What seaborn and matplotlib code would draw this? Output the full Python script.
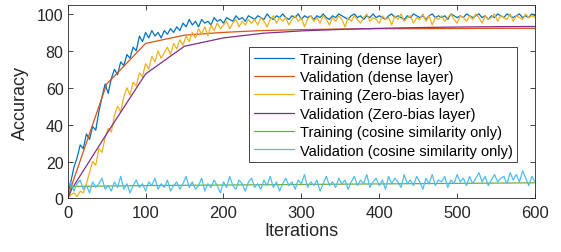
import numpy as np
import pandas as pd
import matplotlib
matplotlib.use("Agg")
import matplotlib.pyplot as plt
import seaborn as sns

# iterations for the noisy training curves (read every 4 iterations)
iters_noisy = list(range(0, 601, 4))

train_dense = [
    2, 9, 17, 22, 29, 27, 35, 32, 39, 37,
    47, 55, 62, 57, 65, 70, 67, 74, 72, 78,
    76, 82, 80, 88, 85, 90, 87, 91, 88, 90,
    87, 91, 89, 92, 90, 93, 91, 95, 93, 97,
    94, 96, 93, 97, 95, 96, 94, 98, 96, 97,
    95, 98, 97, 96, 99, 97, 98, 96, 99, 98,
    97, 99, 98, 97, 100, 98, 97, 99, 98, 100,
    98, 97, 99, 98, 100, 97, 99, 98, 99, 97,
    99, 98, 100, 98, 97, 99, 98, 100, 99, 98,
    97, 99, 100, 98, 99, 97, 99, 98, 100, 98,
    99, 98, 97, 99, 100, 98, 99, 98, 97, 99,
    98, 100, 99, 98, 99, 97, 99, 100, 98, 99,
    98, 99, 97, 100, 99, 98, 99, 98, 100, 99,
    98, 99, 100, 98, 99, 97, 99, 98, 100, 99,
    98, 100, 99, 98, 99, 100, 98, 99, 98, 100,
    99,
]

train_zero_bias = [
    0, 2, 3, 1, 4, 3, 8, 14, 20, 18,
    27, 25, 33, 38, 36, 45, 50, 47, 55, 60,
    56, 63, 61, 68, 66, 73, 70, 77, 74, 80,
    76, 79, 82, 78, 84, 81, 86, 83, 88, 85,
    90, 87, 92, 89, 93, 88, 94, 91, 95, 92,
    94, 96, 92, 95, 97, 93, 96, 94, 97, 95,
    97, 94, 98, 96, 93, 97, 99, 95, 98, 96,
    98, 94, 97, 99, 96, 98, 93, 97, 99, 96,
    98, 95, 99, 97, 94, 98, 96, 99, 97, 93,
    98, 96, 99, 97, 95, 98, 100, 96, 98, 97,
    95, 99, 97, 98, 94, 99, 97, 100, 96, 98,
    99, 95, 98, 97, 100, 96, 99, 94, 98, 97,
    99, 96, 98, 100, 97, 95, 99, 98, 96, 99,
    97, 100, 98, 95, 99, 97, 98, 100, 96, 99,
    98, 97, 100, 96, 99, 98, 97, 100, 98, 99,
    98,
]

val_cosine = [
    6, 9, 4, 8, 10, 5, 7, 3, 9, 6,
    8, 11, 5, 7, 4, 9, 6, 12, 5, 8,
    3, 7, 10, 6, 8, 4, 9, 7, 11, 5,
    8, 6, 10, 4, 7, 9, 5, 8, 12, 6,
    9, 5, 7, 11, 4, 8, 6, 10, 7, 3,
    9, 6, 12, 7, 5, 10, 8, 4, 9, 11,
    6, 8, 5, 10, 7, 12, 6, 9, 4, 8,
    11, 7, 9, 5, 10, 8, 13, 6, 9, 7,
    10, 4, 8, 12, 7, 9, 6, 11, 8, 10,
    5, 9, 12, 7, 10, 8, 13, 6, 9, 11,
    7, 10, 5, 12, 8, 11, 9, 6, 13, 8,
    10, 7, 12, 9, 5, 11, 8, 13, 7, 10,
    9, 12, 6, 10, 8, 13, 9, 11, 7, 12,
    8, 11, 14, 9, 12, 7, 10, 13, 9, 11,
    12, 8, 14, 10, 13, 9, 15, 11, 7, 12,
    9,
]

# smooth curves (validation every 50 iterations)
iters_val = [0, 5, 50, 100, 150, 200, 250, 300, 350, 400, 450, 500, 550, 600]
val_dense = [0, 7, 62, 84, 88.5, 90, 91, 91.5, 91.8, 92, 92, 92.1, 92.2, 92.2]
val_zero_bias = [0, 5, 35, 67.5, 82.5, 87, 89.5, 90.8, 91.6, 92.2, 92.6, 92.9, 93.1, 93.2]

iters_cos_train = [0, 5, 100, 200, 300, 400, 500, 600]
train_cosine = [2, 6.5, 7, 7.3, 7.6, 7.9, 8.2, 8.5]

labels = [
    "Training (dense layer)",
    "Validation (dense layer)",
    "Training (Zero-bias layer)",
    "Validation (Zero-bias layer)",
    "Training (cosine similarity only)",
    "Validation (cosine similarity only)",
]
colors = ["#0072BD", "#D95319", "#EDB120", "#7E2F8E", "#77AC30", "#4DBEEE"]

series = [
    (iters_noisy, train_dense),
    (iters_val, val_dense),
    (iters_noisy, train_zero_bias),
    (iters_val, val_zero_bias),
    (iters_cos_train, train_cosine),
    (iters_noisy, val_cosine),
]
frames = []
for lab, (xs, ys) in zip(labels, series):
    frames.append(pd.DataFrame({"Iterations": xs, "Accuracy": ys, "series": lab}))
df = pd.concat(frames, ignore_index=True)

sns.set_style("ticks")
plt.rcParams["font.family"] = ["Liberation Sans", "DejaVu Sans"]
dark = "#262626"

fig = plt.figure(figsize=(5.61, 2.53), dpi=100)
ax = fig.add_axes([0.1207, 0.2115, 0.8330, 0.766])

sns.lineplot(data=df, x="Iterations", y="Accuracy", hue="series",
             hue_order=labels, palette=colors, estimator=None, sort=False,
             linewidth=0.9, ax=ax)

ax.set_xlim(0, 600)
ax.set_ylim(0, 105)
ax.set_xticks(range(0, 601, 100))
ax.set_yticks(range(0, 101, 20))
ax.tick_params(direction="in", length=3.5, width=0.6, colors=dark,
               labelsize=12, top=True, right=True, labeltop=False, labelright=False)
ax.tick_params(axis="x", pad=5)
ax.tick_params(axis="y", pad=3)
ax.tick_params(axis="y", labelsize=11.5)
for sp in ax.spines.values():
    sp.set_visible(True)
    sp.set_linewidth(0.6)
    sp.set_color(dark)
ax.set_xlabel("Iterations", fontsize=13, color=dark, labelpad=1)
ax.set_ylabel("Accuracy", fontsize=13, color=dark, labelpad=6)

handles, _ = ax.get_legend_handles_labels()
leg = ax.legend(handles, labels, loc="upper right", bbox_to_anchor=(0.961, 0.780),
                fontsize=10.5, frameon=True, fancybox=False, framealpha=1,
                edgecolor=dark, handlelength=2.8, labelspacing=0.3,
                borderpad=0.3, handletextpad=0.35, borderaxespad=0)
leg.get_frame().set_linewidth(0.6)
for t in leg.get_texts():
    t.set_color("black")

fig.savefig("out.png", dpi=100)
